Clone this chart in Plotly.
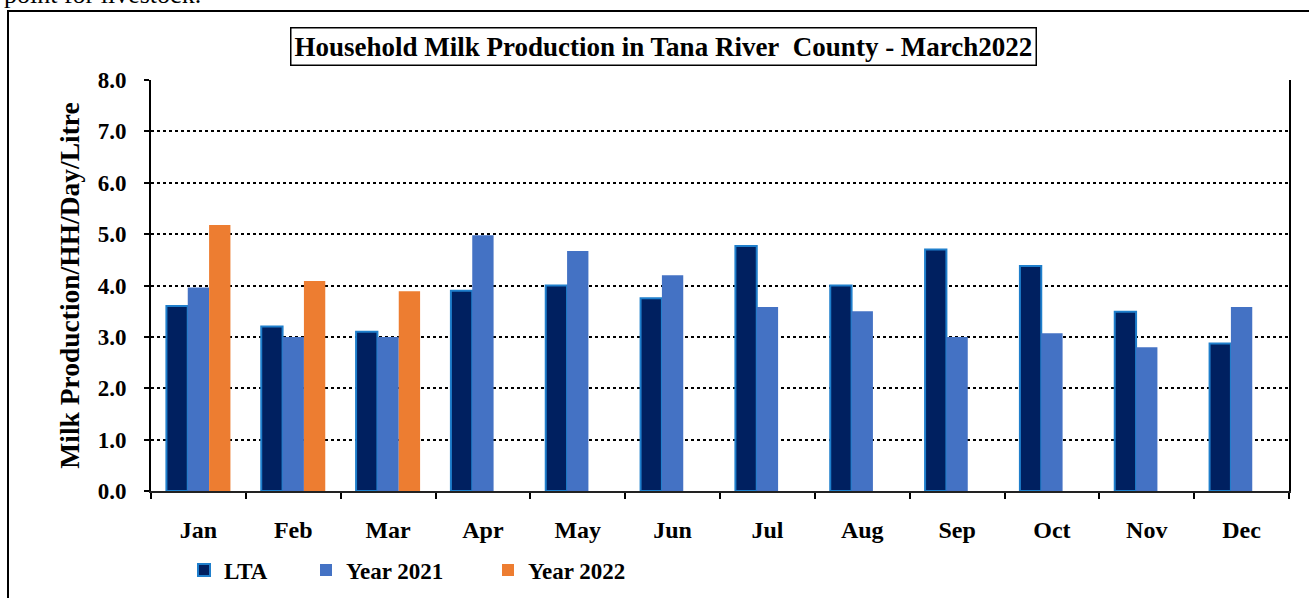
import plotly.graph_objects as go

months = ["Jan", "Feb", "Mar", "Apr", "May", "Jun", "Jul", "Aug", "Sep", "Oct", "Nov", "Dec"]
lta = [3.6, 3.2, 3.1, 3.9, 4.0, 3.75, 4.77, 4.0, 4.7, 4.38, 3.49, 2.87]
y2021 = [3.96, 3.0, 3.0, 4.98, 4.67, 4.2, 3.58, 3.5, 3.0, 3.07, 2.8, 3.58]
y2022 = [5.18, 4.09, 3.89, None, None, None, None, None, None, None, None, None]
y_ticks = [0, 1, 2, 3, 4, 5, 6, 7, 8]
y_tick_labels = ["0.0", "1.0", "2.0", "3.0", "4.0", "5.0", "6.0", "7.0", "8.0"]

FONT = "Liberation Serif"
W, H = 1309, 598
ML, MR, MT, MB = 151, 20, 80, 107
PW, PH = W - ML - MR, H - MT - MB


def px_x(p):
    return (p - ML) / PW


def px_y(p):
    return (H - MB - p) / PH


fig = go.Figure()
fig.add_trace(go.Bar(x=months, y=lta, name="LTA", legend="legend",
                     marker=dict(color="#002060", line=dict(color="#1F7FCC", width=2))))
fig.add_trace(go.Bar(x=months, y=y2021, name="Year 2021", legend="legend2",
                     marker=dict(color="#4472C4", line=dict(width=0))))
fig.add_trace(go.Bar(x=months, y=y2022, name="Year 2022", legend="legend3",
                     marker=dict(color="#ED7D31", line=dict(width=0))))

legend_common = dict(orientation="h", xref="paper", yref="paper", xanchor="left",
                     yanchor="middle", bgcolor="rgba(0,0,0,0)", borderwidth=0,
                     font=dict(family=FONT, size=23, color="black", weight="bold"),
                     itemwidth=30)

fig.update_layout(
    width=W, height=H,
    margin=dict(l=ML, r=MR, t=MT, b=MB, autoexpand=False),
    paper_bgcolor="white", plot_bgcolor="white",
    barmode="group", bargap=0.325, bargroupgap=0,
    font=dict(family=FONT, color="black"),
    showlegend=True,
    legend=dict(x=px_x(184), y=px_y(570), **legend_common),
    legend2=dict(x=px_x(306), y=px_y(570), **legend_common),
    legend3=dict(x=px_x(488), y=px_y(570), **legend_common),
    xaxis=dict(
        showline=True, linecolor="#222222", linewidth=1.5,
        ticks="outside", tickson="boundaries", ticklen=6, tickwidth=1.5, tickcolor="black",
        tickfont=dict(family=FONT, size=24, color="black", weight="bold"),
        ticklabelstandoff=16, showgrid=False, fixedrange=True,
    ),
    yaxis=dict(
        range=[0, 8], tickvals=y_ticks, ticktext=y_tick_labels,
        showline=True, linecolor="black", linewidth=2, mirror=True,
        ticks="outside", ticklen=5, tickwidth=1.5, tickcolor="black",
        tickfont=dict(family=FONT, size=23, color="black", weight="bold"),
        ticklabelstandoff=13,
        showgrid=True, gridcolor="black", gridwidth=1.5, griddash="dot",
        zeroline=False,
        title=dict(text="Milk Production/HH/Day/Litre", standoff=10,
                   font=dict(family=FONT, size=27.5, color="black", weight="bold")),
    ),
    annotations=[
        dict(text="Household Milk Production in Tana River\u00a0 County - March2022",
             xref="paper", yref="paper", x=px_x(663), y=px_y(46),
             xanchor="center", yanchor="middle", showarrow=False,
             font=dict(family=FONT, size=27, color="black", weight="bold"),
             bordercolor="black", borderwidth=1.5, borderpad=3, bgcolor="white"),
        dict(text="point for livestock.", xref="paper", yref="paper",
             x=px_x(2), y=px_y(-5), xanchor="left", yanchor="middle", showarrow=False,
             font=dict(family=FONT, size=26, color="black")),
    ],
    shapes=[
        dict(type="rect", xref="paper", yref="paper",
             x0=px_x(8), x1=px_x(1330), y0=px_y(11), y1=px_y(640),
             line=dict(color="black", width=2), fillcolor="rgba(0,0,0,0)", layer="below"),
    ],
)

fig.write_html("out.html")
